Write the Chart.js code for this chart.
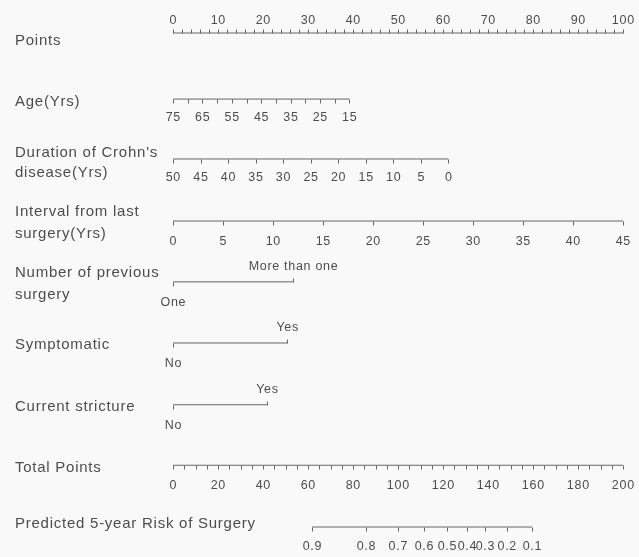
<!DOCTYPE html>
<html>
<head>
<meta charset="utf-8">
<script src="https://cdn.jsdelivr.net/npm/chart.js@4.4.1/dist/chart.umd.min.js"></script>
<style>
  html, body { margin: 0; padding: 0; background: #f9f9f9; }
  #wrap { width: 639px; height: 557px; }
</style>
</head>
<body>
<div id="wrap"><canvas id="nomo" width="639" height="557"></canvas></div>
<script>
// ---- Nomogram data -------------------------------------------------------
// Points scale (top)
const pointsTicks = [0, 10, 20, 30, 40, 50, 60, 70, 80, 90, 100];
const pointsMinorStep = 2;

// Age (years): axis ends and the points they carry
const ageTicks = [75, 65, 55, 45, 35, 25, 15];
const ageMinorStep = 5;
const ageRange = [75, 15];
const agePoints = [0, 39.2];

// Duration of Crohn's disease (years)
const durationTicks = [50, 45, 40, 35, 30, 25, 20, 15, 10, 5, 0];
const durationRange = [50, 0];
const durationPoints = [0, 61.2];

// Interval from last surgery (years)
const intervalTicks = [0, 5, 10, 15, 20, 25, 30, 35, 40, 45];
const intervalRange = [0, 45];
const intervalPoints = [0, 100];

// Categorical predictors
const previousSurgeryLabels = ['One', 'More than one'];
const previousSurgeryPoints = [0, 26.7];
const symptomaticLabels = ['No', 'Yes'];
const symptomaticPoints = [0, 25.4];
const strictureLabels = ['No', 'Yes'];
const stricturePoints = [0, 20.9];

// Total points scale
const totalPointsTicks = [0, 20, 40, 60, 80, 100, 120, 140, 160, 180, 200];
const totalMinorStep = 5;

// Predicted 5-year risk of surgery, placed on the total points scale
const riskLabels = ['0.9', '0.8', '0.7', '0.6', '0.5', '0.4', '0.3', '0.2', '0.1'];
const riskTotalPoints = [61.8, 85.8, 100, 111.6, 121.8, 130.7, 138.7, 148.4, 159.6];

// Row titles
const rowTitles = [
  ['Points'],
  ['Age(Yrs)'],
  ["Duration of Crohn's", 'disease(Yrs)'],
  ['Interval from last', 'surgery(Yrs)'],
  ['Number of previous', 'surgery'],
  ['Symptomatic'],
  ['Current stricture'],
  ['Total Points'],
  ['Predicted 5-year Risk of Surgery']
];

// ---- Layout ----------------------------------------------------------------
const rowPos = [0, 1.07, 2.04, 3.045, 4.03, 5.02, 6.02, 7.0, 8.0];
const titleOffsets = [[7], [2], [-7, 13], [-10, 12], [-10, 12], [1], [1], [2], [-4]];
const LINE = '#666666';
const TEXT = '#4d4d4d';
const TICK_FONT = '12.5px "Liberation Sans", Arial, sans-serif';
const TICK_SPACING = '0.7px';
const TITLE_FONT = '15px "Liberation Sans", Arial, sans-serif';
const TITLE_SPACING = '0.75px';
const TICK_LEN = 4;

function toPoints(v, range, pts) {
  return pts[0] + (v - range[0]) / (range[1] - range[0]) * (pts[1] - pts[0]);
}
function stepValues(a, b, step) {
  const out = [];
  const n = Math.round(Math.abs(b - a) / step);
  const s = b >= a ? step : -step;
  for (let i = 0; i <= n; i++) out.push(a + s * i);
  return out;
}

// Each axis row: scale id, line extent, ticks (value, up/down, optional label)
const rows = [];
rows.push({
  axis: 'x', from: 0, to: 100,
  ticks: stepValues(0, 100, pointsMinorStep).map(v => ({ v, dir: -1 })),
  labels: pointsTicks.map(v => ({ v, text: String(v), dy: -13 }))
});
rows.push({
  axis: 'x', from: agePoints[0], to: agePoints[1],
  ticks: stepValues(ageRange[0], ageRange[1], ageMinorStep).map(a => ({ v: toPoints(a, ageRange, agePoints), dir: 1 })),
  labels: ageTicks.map(a => ({ v: toPoints(a, ageRange, agePoints), text: String(a), dy: 18 }))
});
rows.push({
  axis: 'x', from: durationPoints[0], to: durationPoints[1],
  ticks: durationTicks.map(d => ({ v: toPoints(d, durationRange, durationPoints), dir: 1 })),
  labels: durationTicks.map(d => ({ v: toPoints(d, durationRange, durationPoints), text: String(d), dy: 18 }))
});
rows.push({
  axis: 'x', from: intervalPoints[0], to: intervalPoints[1],
  ticks: intervalTicks.map(t => ({ v: toPoints(t, intervalRange, intervalPoints), dir: 1 })),
  labels: intervalTicks.map(t => ({ v: toPoints(t, intervalRange, intervalPoints), text: String(t), dy: 20 }))
});
[[previousSurgeryLabels, previousSurgeryPoints],
 [symptomaticLabels, symptomaticPoints],
 [strictureLabels, stricturePoints]].forEach(([labs, pts]) => {
  rows.push({
    axis: 'x', from: pts[0], to: pts[1],
    ticks: [{ v: pts[0], dir: 1 }, { v: pts[1], dir: -1 }],
    labels: [{ v: pts[0], text: labs[0], dy: 20 }, { v: pts[1], text: labs[1], dy: -16 }]
  });
});
rows.push({
  axis: 'xTotal', from: 0, to: 200,
  ticks: stepValues(0, 200, totalMinorStep).map(v => ({ v, dir: 1 })),
  labels: totalPointsTicks.map(v => ({ v, text: String(v), dy: 20 }))
});
rows.push({
  axis: 'xTotal', from: riskTotalPoints[0], to: riskTotalPoints[riskTotalPoints.length - 1],
  ticks: riskTotalPoints.map(v => ({ v, dir: 1 })),
  labels: riskTotalPoints.map((v, i) => ({ v, text: riskLabels[i], dy: 19 }))
});

const datasets = rows.map((r, i) => ({
  data: [{ x: r.from, y: rowPos[i] }, { x: r.to, y: rowPos[i] }],
  xAxisID: r.axis,
  yAxisID: 'y',
  showLine: true,
  borderColor: LINE,
  borderWidth: 1,
  pointRadius: 0,
  clip: false
}));

// Tick marks, tick labels and row titles
const nomogramText = {
  id: 'nomogramText',
  afterDatasetsDraw(chart) {
    const ctx = chart.ctx;
    const yScale = chart.scales.y;
    ctx.save();
    rows.forEach((r, i) => {
      const xs = chart.scales[r.axis];
      const y = Math.round(yScale.getPixelForValue(rowPos[i])) + 0.5;
      ctx.strokeStyle = LINE;
      ctx.lineWidth = 1;
      r.ticks.forEach(t => {
        const x = Math.round(xs.getPixelForValue(t.v)) + 0.5;
        ctx.beginPath();
        ctx.moveTo(x, y);
        ctx.lineTo(x, y + t.dir * TICK_LEN);
        ctx.stroke();
      });
      ctx.fillStyle = TEXT;
      ctx.font = TICK_FONT;
      ctx.letterSpacing = TICK_SPACING;
      ctx.textAlign = 'center';
      ctx.textBaseline = 'middle';
      r.labels.forEach(l => {
        ctx.fillText(l.text, xs.getPixelForValue(l.v) + 0.35, y + l.dy);
      });
      ctx.font = TITLE_FONT;
      ctx.letterSpacing = TITLE_SPACING;
      ctx.textAlign = 'left';
      rowTitles[i].forEach((line, k) => {
        ctx.fillText(line, 15, y + titleOffsets[i][k]);
      });
    });
    ctx.restore();
  }
};

new Chart(document.getElementById('nomo'), {
  type: 'scatter',
  data: { datasets },
  options: {
    responsive: false,
    devicePixelRatio: 1,
    animation: false,
    events: [],
    layout: { padding: { left: 173, right: 16, top: 33, bottom: 30 } },
    plugins: { legend: { display: false }, tooltip: { enabled: false } },
    scales: {
      x: { type: 'linear', min: 0, max: 100, display: false },
      xTotal: { type: 'linear', min: 0, max: 200, display: false },
      y: { type: 'linear', min: 0, max: 8, reverse: true, display: false }
    }
  },
  plugins: [nomogramText]
});
</script>
</body>
</html>
